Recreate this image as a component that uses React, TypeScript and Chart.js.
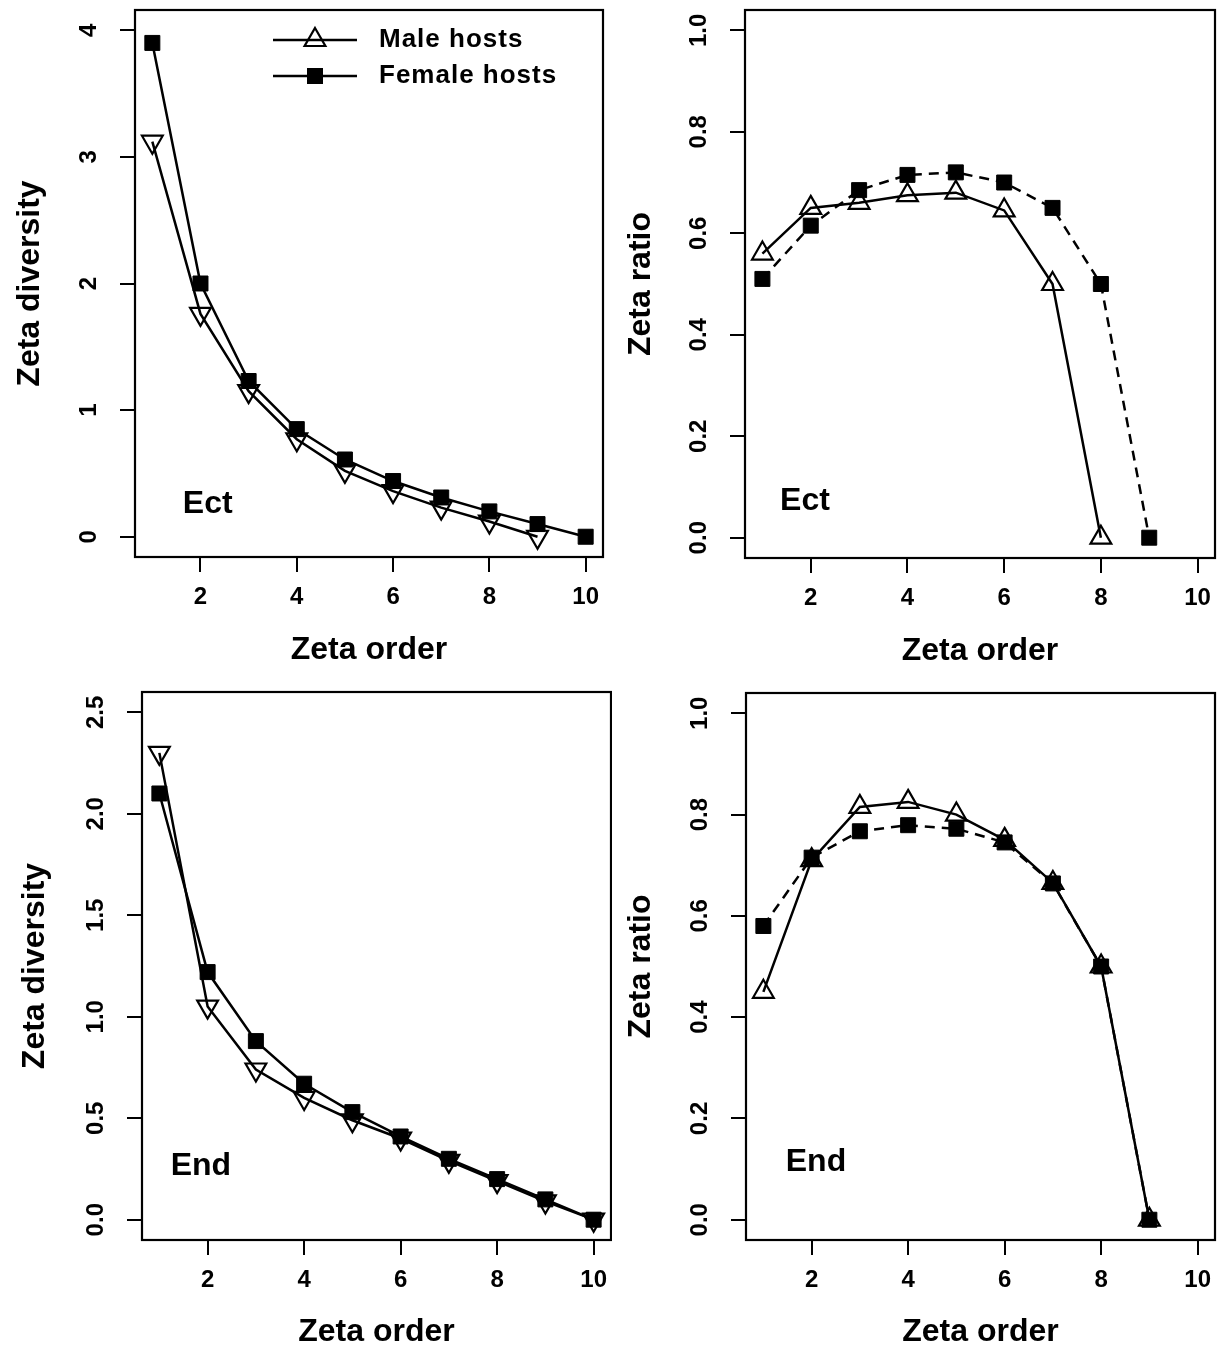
import React, { useEffect, useRef } from "react";
import { Chart, registerables } from "chart.js";

Chart.register(...registerables);

// ---------------- data ----------------
const zetaOrder = [1, 2, 3, 4, 5, 6, 7, 8, 9, 10];
const xTickValues = [2, 4, 6, 8, 10];
const xTickLabels = ["2", "4", "6", "8", "10"];

const legendLabels = ["Male hosts", "Female hosts"];

// Ect – zeta diversity
const ectDiversityMale = [3.12, 1.76, 1.15, 0.77, 0.52, 0.36, 0.23, 0.12, 0.0];
const ectDiversityFemale = [3.9, 2.0, 1.23, 0.85, 0.61, 0.44, 0.31, 0.2, 0.1, 0.0];
// Ect – zeta ratio
const ectRatioMale = [0.56, 0.65, 0.66, 0.675, 0.68, 0.645, 0.5, 0.0];
const ectRatioFemale = [0.51, 0.615, 0.685, 0.715, 0.72, 0.7, 0.65, 0.5, 0.0];
// End – zeta diversity
const endDiversityMale = [2.3, 1.05, 0.74, 0.6, 0.49, 0.4, 0.29, 0.19, 0.09, 0.0];
const endDiversityFemale = [2.1, 1.22, 0.88, 0.67, 0.53, 0.41, 0.3, 0.2, 0.1, 0.0];
// End – zeta ratio
const endRatioMale = [0.45, 0.71, 0.815, 0.825, 0.8, 0.75, 0.665, 0.5, 0.0];
const endRatioFemale = [0.58, 0.715, 0.767, 0.779, 0.772, 0.745, 0.664, 0.5, 0.0];

const ectDivTicks = [0, 1, 2, 3, 4];
const ectDivTickLabels = ["0", "1", "2", "3", "4"];
const endDivTicks = [0, 0.5, 1, 1.5, 2, 2.5];
const endDivTickLabels = ["0.0", "0.5", "1.0", "1.5", "2.0", "2.5"];
const ratioTicks = [0, 0.2, 0.4, 0.6, 0.8, 1.0];
const ratioTickLabels = ["0.0", "0.2", "0.4", "0.6", "0.8", "1.0"];

const xTitle = "Zeta order";
const yTitleDiversity = "Zeta diversity";
const yTitleRatio = "Zeta ratio";

// ---------------- styling ----------------
const FONT = "'Liberation Sans', Arial, Helvetica, sans-serif";
const TICK_LEN = 15;
const TICK_LABEL_GAP = 46;
const X_RANGE: [number, number] = [0.64, 10.36];
const LINE_W = 2.5;

type PanelSpec = {
  canvas: { x: number; y: number; w: number; h: number };
  area: { l: number; t: number; r: number; b: number };
  male: number[];
  female: number[];
  maleRotation: number;
  femaleDashed: boolean;
  yRange: [number, number];
  yTicks: number[];
  yTickLabels: string[];
  yTitle: string;
  yTitleGap: number;
  xTitleGap: number;
  label: string;
  labelAt: [number, number];
  legend: boolean;
};

const PANELS: PanelSpec[] = [
  {
    canvas: { x: 0, y: 0, w: 612, h: 680 },
    area: { l: 135, t: 10, r: 603, b: 557 },
    male: ectDiversityMale,
    female: ectDiversityFemale,
    maleRotation: 180,
    femaleDashed: false,
    yRange: [-0.16, 4.16],
    yTicks: ectDivTicks,
    yTickLabels: ectDivTickLabels,
    yTitle: yTitleDiversity,
    yTitleGap: 30,
    xTitleGap: 30,
    label: "Ect",
    labelAt: [2.15, 0.26],
    legend: true,
  },
  {
    canvas: { x: 612, y: 0, w: 608, h: 680 },
    area: { l: 745, t: 10, r: 1215, b: 558 },
    male: ectRatioMale,
    female: ectRatioFemale,
    maleRotation: 0,
    femaleDashed: true,
    yRange: [-0.04, 1.04],
    yTicks: ratioTicks,
    yTickLabels: ratioTickLabels,
    yTitle: yTitleRatio,
    yTitleGap: 29,
    xTitleGap: 29,
    label: "Ect",
    labelAt: [1.88, 0.072],
    legend: false,
  },
  {
    canvas: { x: 0, y: 680, w: 612, h: 669 },
    area: { l: 142, t: 692, r: 611, b: 1240 },
    male: endDiversityMale,
    female: endDiversityFemale,
    maleRotation: 180,
    femaleDashed: false,
    yRange: [-0.1, 2.6],
    yTicks: endDivTicks,
    yTickLabels: endDivTickLabels,
    yTitle: yTitleDiversity,
    yTitleGap: 35,
    xTitleGap: 17,
    label: "End",
    labelAt: [1.86, 0.262],
    legend: false,
  },
  {
    canvas: { x: 612, y: 680, w: 608, h: 669 },
    area: { l: 746, t: 693, r: 1215, b: 1240 },
    male: endRatioMale,
    female: endRatioFemale,
    maleRotation: 0,
    femaleDashed: true,
    yRange: [-0.04, 1.04],
    yTicks: ratioTicks,
    yTickLabels: ratioTickLabels,
    yTitle: yTitleRatio,
    yTitleGap: 29,
    xTitleGap: 17,
    label: "End",
    labelAt: [2.09, 0.113],
    legend: false,
  },
];

// ---------------- plugins ----------------
const framePlugin = {
  id: "frame",
  beforeDatasetsDraw(chart: any) {
    const { ctx, chartArea: a } = chart;
    ctx.save();
    ctx.strokeStyle = "#000";
    ctx.lineWidth = 2.2;
    ctx.strokeRect(a.left, a.top, a.right - a.left, a.bottom - a.top);
    ctx.restore();
  },
};

const panelLabelPlugin = {
  id: "panelLabel",
  afterDatasetsDraw(chart: any, _args: any, opts: any) {
    if (!opts || !opts.text) return;
    const { ctx, scales } = chart;
    ctx.save();
    ctx.font = `bold 32px ${FONT}`;
    ctx.fillStyle = "#000";
    ctx.textAlign = "center";
    ctx.textBaseline = "middle";
    ctx.fillText(opts.text, scales.x.getPixelForValue(opts.x), scales.y.getPixelForValue(opts.y));
    ctx.restore();
  },
};

function drawTriangle(ctx: CanvasRenderingContext2D, cx: number, cy: number, r: number) {
  const c = Math.cos(Math.PI / 6) * r;
  ctx.beginPath();
  ctx.moveTo(cx, cy - r);
  ctx.lineTo(cx + c, cy + r / 2);
  ctx.lineTo(cx - c, cy + r / 2);
  ctx.closePath();
  ctx.stroke();
}

const legendPlugin = {
  id: "rLegend",
  afterDraw(chart: any, _args: any, opts: any) {
    if (!opts || !opts.show) return;
    const { ctx, chartArea: a } = chart;
    const x0 = a.left + 138;
    const x1 = a.left + 222;
    const xm = (x0 + x1) / 2;
    const tx = a.left + 244;
    const rows = [a.top + 30, a.top + 66];
    ctx.save();
    ctx.strokeStyle = "#000";
    ctx.fillStyle = "#000";
    rows.forEach((y, i) => {
      ctx.lineWidth = LINE_W;
      ctx.beginPath();
      ctx.moveTo(x0, y);
      ctx.lineTo(x1, y);
      ctx.stroke();
      if (i === 0) {
        ctx.lineWidth = 2.2;
        drawTriangle(ctx, xm, y, 12);
      } else {
        const s = 8;
        ctx.fillRect(xm - s, y - s, 2 * s, 2 * s);
      }
      ctx.font = `bold 26px ${FONT}`;
      (ctx as any).letterSpacing = "1px";
      ctx.textAlign = "left";
      ctx.textBaseline = "middle";
      ctx.fillText(legendLabels[i], tx, y);
    });
    ctx.restore();
  },
};

// ---------------- config ----------------
function buildConfig(p: PanelSpec): any {
  const measure = document.createElement("canvas").getContext("2d")!;
  measure.font = `bold 24px ${FONT}`;
  const widest = Math.max(...p.yTickLabels.map((s) => measure.measureText(s).width));
  const yTickPad = TICK_LABEL_GAP - TICK_LEN - widest / 2;

  const yAxisWidth = p.area.l - p.canvas.x;
  const xAxisHeight = p.canvas.y + p.canvas.h - p.area.b;
  const padTop = p.area.t - p.canvas.y;
  const padRight = p.canvas.x + p.canvas.w - p.area.r;

  const femalePts = p.female.map((v, i) => ({ x: zetaOrder[i], y: v }));
  const malePts = p.male.map((v, i) => ({ x: zetaOrder[i], y: v }));

  const tickFont = { family: FONT, size: 24, weight: "bold" as const };
  const titleFont = { family: FONT, size: 32, weight: "bold" as const, lineHeight: 1 };

  return {
    type: "line",
    data: {
      datasets: [
        {
          label: legendLabels[1],
          data: femalePts,
          order: 0,
          borderColor: "#000",
          backgroundColor: "#000",
          borderWidth: LINE_W,
          borderDash: p.femaleDashed ? [10, 7] : [],
          pointStyle: "rect",
          pointRadius: 10.6,
          pointBorderWidth: 1,
          pointBackgroundColor: "#000",
          pointBorderColor: "#000",
          tension: 0,
          fill: false,
        },
        {
          label: legendLabels[0],
          data: malePts,
          order: 1,
          borderColor: "#000",
          backgroundColor: "rgba(0,0,0,0)",
          borderWidth: LINE_W,
          pointStyle: "triangle",
          pointRotation: p.maleRotation,
          pointRadius: 12,
          pointBorderWidth: 2.2,
          pointBackgroundColor: "rgba(0,0,0,0)",
          pointBorderColor: "#000",
          tension: 0,
          fill: false,
        },
      ],
    },
    options: {
      responsive: false,
      maintainAspectRatio: false,
      animation: false,
      events: [],
      layout: { autoPadding: false, padding: { left: 0, top: padTop, right: padRight, bottom: 0 } },
      plugins: {
        legend: { display: false },
        tooltip: { enabled: false },
        rLegend: { show: p.legend },
        panelLabel: { text: p.label, x: p.labelAt[0], y: p.labelAt[1] },
      },
      scales: {
        x: {
          type: "linear",
          position: "bottom",
          min: X_RANGE[0],
          max: X_RANGE[1],
          bounds: "data",
          afterBuildTicks: (s: any) => {
            s.ticks = xTickValues.map((v) => ({ value: v }));
          },
          afterFit: (s: any) => {
            s.height = xAxisHeight;
            s.paddingLeft = 0;
            s.paddingRight = 0;
          },
          ticks: {
            autoSkip: false,
            minRotation: 0,
            maxRotation: 0,
            padding: 11,
            color: "#000",
            font: tickFont,
            callback: (_v: any, i: number) => xTickLabels[i],
          },
          grid: {
            drawOnChartArea: false,
            drawTicks: true,
            tickLength: TICK_LEN,
            color: "#000",
            lineWidth: 2,
          },
          border: { display: false },
          title: {
            display: true,
            text: xTitle,
            color: "#000",
            font: titleFont,
            padding: { top: 0, bottom: p.xTitleGap - 16 },
          },
        },
        y: {
          type: "linear",
          position: "left",
          min: p.yRange[0],
          max: p.yRange[1],
          bounds: "data",
          afterBuildTicks: (s: any) => {
            s.ticks = p.yTicks.map((v) => ({ value: v }));
          },
          afterFit: (s: any) => {
            s.width = yAxisWidth;
            s.paddingTop = 0;
            s.paddingBottom = 0;
          },
          ticks: {
            autoSkip: false,
            minRotation: 90,
            maxRotation: 90,
            crossAlign: "center",
            padding: yTickPad,
            color: "#000",
            font: tickFont,
            callback: (_v: any, i: number) => p.yTickLabels[i],
          },
          grid: {
            drawOnChartArea: false,
            drawTicks: true,
            tickLength: TICK_LEN,
            color: "#000",
            lineWidth: 2,
          },
          border: { display: false },
          title: {
            display: true,
            text: p.yTitle,
            color: "#000",
            font: titleFont,
            padding: { top: p.yTitleGap - 16, bottom: p.yTitleGap - 16 },
          },
        },
      },
    },
    plugins: [framePlugin, panelLabelPlugin, legendPlugin],
  };
}

export default function App() {
  const refs = useRef<(HTMLCanvasElement | null)[]>([]);

  useEffect(() => {
    const charts = PANELS.map((p, i) => new Chart(refs.current[i] as HTMLCanvasElement, buildConfig(p)));
    return () => {
      charts.forEach((c) => c.destroy());
    };
  }, []);

  return (
    <div
      style={{
        position: "absolute",
        left: 0,
        top: 0,
        width: 1220,
        height: 1349,
        background: "#fff",
        overflow: "hidden",
      }}
    >
      {PANELS.map((p, i) => (
        <canvas
          key={i}
          ref={(el) => {
            refs.current[i] = el;
          }}
          width={p.canvas.w}
          height={p.canvas.h}
          style={{
            position: "absolute",
            left: p.canvas.x,
            top: p.canvas.y,
            width: p.canvas.w,
            height: p.canvas.h,
          }}
        />
      ))}
    </div>
  );
}
